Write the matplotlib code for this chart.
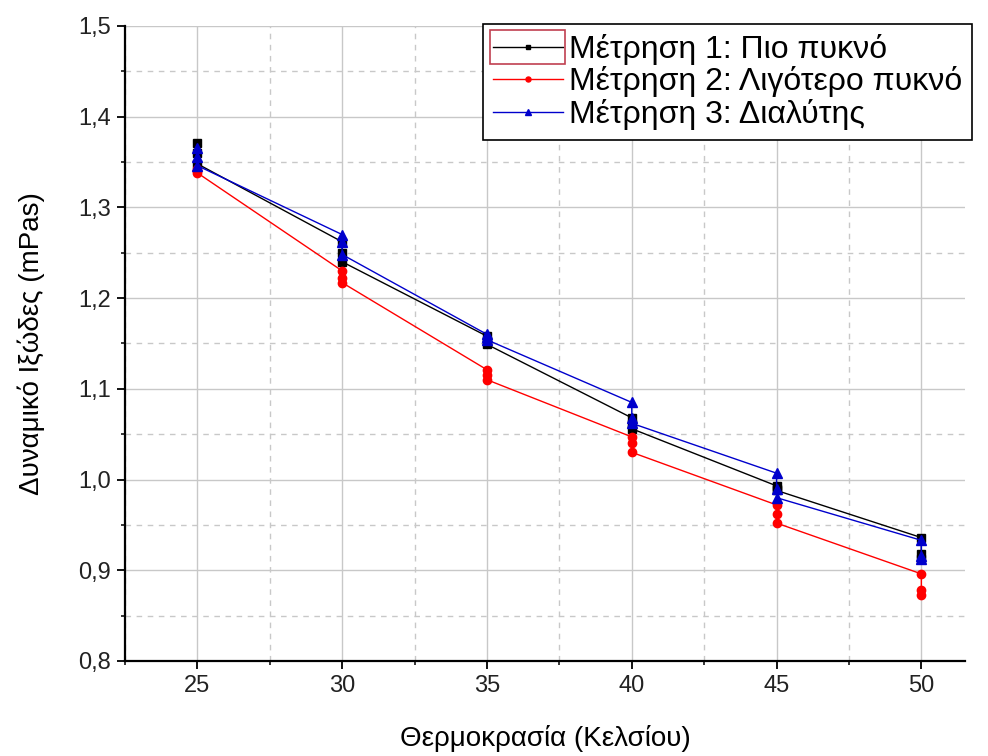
import matplotlib
matplotlib.use("Agg")
import matplotlib.pyplot as plt
from matplotlib.ticker import MultipleLocator, FuncFormatter
from matplotlib.patches import Rectangle

# θερμοκρασίες (τρεις επαναλήψεις ανά θερμοκρασία)
temps = [25, 25, 25, 30, 30, 30, 35, 35, 35, 40, 40, 40, 45, 45, 45, 50, 50, 50]

# Μέτρηση 1: Πιο πυκνό
visc_1 = [1.371, 1.360, 1.348, 1.262, 1.250, 1.240, 1.158, 1.153, 1.149,
          1.068, 1.061, 1.056, 0.993, 0.990, 0.988, 0.936, 0.918, 0.912]
# Μέτρηση 2: Λιγότερο πυκνό
visc_2 = [1.342, 1.340, 1.338, 1.230, 1.222, 1.217, 1.121, 1.115, 1.110,
          1.047, 1.040, 1.030, 0.972, 0.962, 0.952, 0.896, 0.878, 0.873]
# Μέτρηση 3: Διαλύτης
visc_3 = [1.365, 1.355, 1.346, 1.270, 1.262, 1.248, 1.160, 1.157, 1.154,
          1.085, 1.068, 1.062, 1.007, 0.990, 0.980, 0.933, 0.916, 0.912]

labels = ["Μέτρηση 1: Πιο πυκνό", "Μέτρηση 2: Λιγότερο πυκνό", "Μέτρηση 3: Διαλύτης"]

plt.rcParams["font.family"] = ["Liberation Sans", "DejaVu Sans"]

fig = plt.figure(figsize=(9.88, 7.56), dpi=100)
ax = fig.add_axes([0.1265, 0.1257, 0.85, 0.84])

ax.plot(temps, visc_1, color="black", lw=1, marker="s", ms=6, label=labels[0])
ax.plot(temps, visc_2, color="red", lw=1, marker="o", ms=6, label=labels[1])
ax.plot(temps, visc_3, color="#0000cc", lw=1, marker="^", ms=6.5, label=labels[2])

ax.set_xlim(22.5, 51.5)
ax.set_ylim(0.8, 1.5)

ax.xaxis.set_major_locator(MultipleLocator(5))
ax.xaxis.set_minor_locator(MultipleLocator(2.5))
ax.yaxis.set_major_locator(MultipleLocator(0.1))
ax.yaxis.set_minor_locator(MultipleLocator(0.05))
ax.yaxis.set_major_formatter(FuncFormatter(lambda v, p: f"{v:.1f}".replace(".", ",")))

ax.grid(True, which="major", color="#c8c8c8", lw=1, ls="-")
ax.grid(True, which="minor", color="#c8c8c8", lw=1, ls=(0, (4, 4)))
ax.set_axisbelow(True)

for side in ("top", "right"):
    ax.spines[side].set_visible(False)
for side in ("left", "bottom"):
    ax.spines[side].set_linewidth(1.6)

ax.tick_params(which="major", direction="out", length=6, width=1.3, labelsize=17,
               labelcolor="#222222", pad=4)
ax.tick_params(which="minor", direction="out", length=3, width=1.1)

ax.set_xlabel("Θερμοκρασία (Κελσίου)", fontsize=20, labelpad=20)
ax.set_ylabel("Δυναμικό Ιξώδες (mPas)", fontsize=20, labelpad=24)

leg = ax.legend(loc="upper right", bbox_to_anchor=(0.984, 0.968),
                bbox_transform=fig.transFigure, fontsize=23, frameon=True,
                fancybox=False, edgecolor="black", framealpha=1,
                handlelength=2.2, handletextpad=0.2, borderpad=0.3,
                labelspacing=0.05, markerscale=0.6, borderaxespad=0)
leg.get_frame().set_linewidth(1.2)

# κόκκινο πλαίσιο επιλογής γύρω από το πρώτο σύμβολο του υπομνήματος
fig.canvas.draw()
bb = leg.legend_handles[0].get_window_extent()
cy = 0.5 * (bb.y0 + bb.y1)
fig.patches.append(Rectangle((bb.x0, cy - 17), bb.width, 34, transform=None,
                             fill=False, edgecolor="#c04050", lw=1.2))

fig.savefig("out.png", dpi=100)
